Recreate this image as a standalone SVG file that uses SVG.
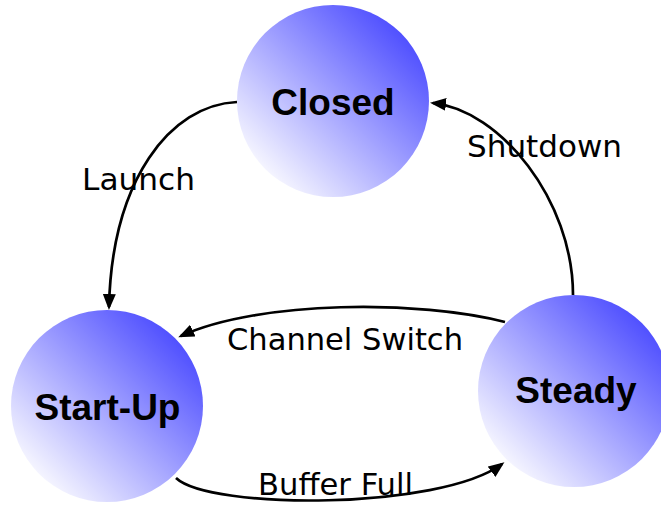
<svg xmlns="http://www.w3.org/2000/svg" width="661" height="506" viewBox="0 0 661 506">
  <style>
    .node { fill: url(#blueGrad); }
    .nlabel { font-family: "Liberation Sans", Arial, sans-serif; font-weight: bold; font-size: 37px; fill: #000; text-anchor: middle; }
    .edge { fill: none; stroke: #000; stroke-width: 2.7; marker-end: url(#arrow); }
    .elabel { font-family: "DejaVu Sans", Verdana, sans-serif; font-size: 31px; fill: #000; }
  </style>
  <defs>
    <linearGradient id="blueGrad" x1="0" y1="1" x2="1" y2="0">
      <stop offset="0.1" stop-color="#ffffff"/>
      <stop offset="0.9" stop-color="#4646ff"/>
    </linearGradient>
    <marker id="arrow" markerUnits="userSpaceOnUse" markerWidth="16" markerHeight="13" refX="13" refY="6.5" orient="auto">
      <path d="M0,0 L16,6.5 L0,13 z" fill="#000"/>
    </marker>
  </defs>
  <rect width="661" height="506" fill="#ffffff"/>

  <g id="node-closed">
    <circle class="node" cx="333" cy="101" r="96"/>
    <text class="nlabel" x="333" y="115">Closed</text>
  </g>
  <g id="node-startup">
    <circle class="node" cx="107" cy="406" r="96"/>
    <text class="nlabel" x="107.5" y="420">Start-Up</text>
  </g>
  <g id="node-steady">
    <circle class="node" cx="574" cy="391" r="96"/>
    <text class="nlabel" x="576" y="403">Steady</text>
  </g>

  <g id="connectors">
    <path class="edge" d="M237,102 C170,105 112,180 109,307"/>
    <path class="edge" d="M573,295 C573,200 500,110 433,103"/>
    <path class="edge" d="M505,322 C420,300 260,300 181,336"/>
    <path class="edge" d="M176,478 C210,510 440,510 502,464"/>
    <text class="elabel" x="82" y="190" textLength="113" lengthAdjust="spacingAndGlyphs">Launch</text>
    <text class="elabel" x="467" y="157" textLength="155" lengthAdjust="spacingAndGlyphs">Shutdown</text>
    <text class="elabel" x="227" y="350" textLength="236" lengthAdjust="spacingAndGlyphs">Channel Switch</text>
    <text class="elabel" x="258" y="495" textLength="155" lengthAdjust="spacingAndGlyphs">Buffer Full</text>
  </g>
</svg>
